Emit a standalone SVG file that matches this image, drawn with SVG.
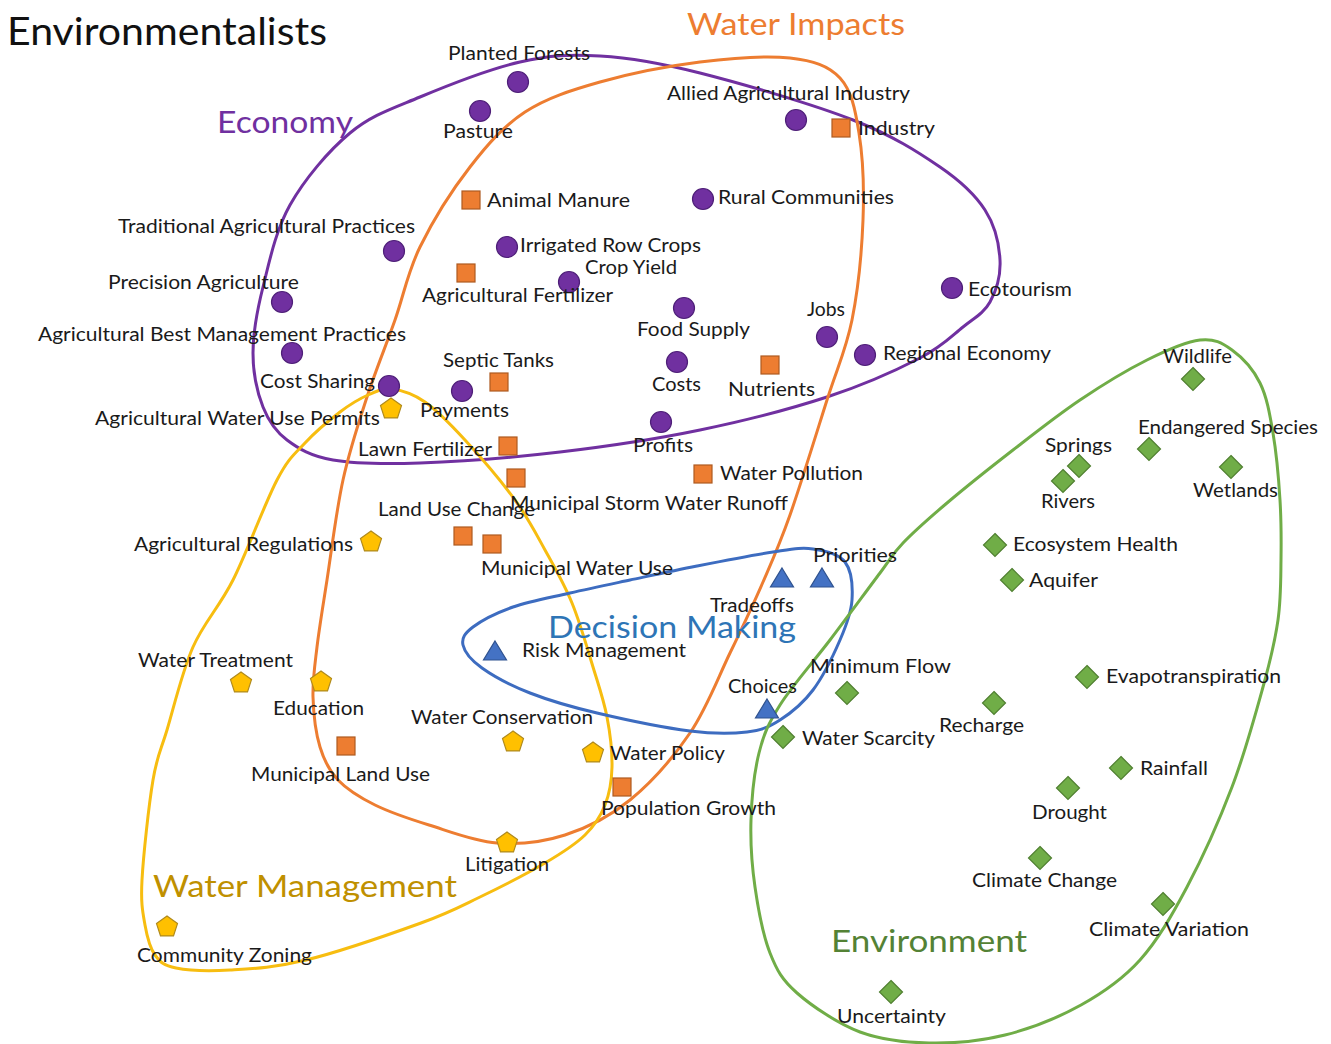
<svg xmlns="http://www.w3.org/2000/svg" width="1331" height="1044" viewBox="0 0 1331 1044">
<style>
  .lbl { font-family: Lato, "Open Sans", "Liberation Sans", sans-serif; font-size: 19.5px; fill: #1a1a1a; }
  .grp { font-family: Lato, "Open Sans", "Liberation Sans", sans-serif; font-size: 30.5px; }
  .title { font-family: Lato, "Open Sans", "Liberation Sans", sans-serif; font-size: 38.5px; fill: #111; }
  .ring { fill: none; stroke-width: 3; }
  .m-eco { fill: #7030a0; stroke: #4e1f78; stroke-width: 1.2; }
  .m-wi { fill: #ed7d31; stroke: #ae5a21; stroke-width: 1.2; }
  .m-wm { fill: #ffc000; stroke: #b08a1c; stroke-width: 1.2; }
  .m-dm { fill: #4472c4; stroke: #2f528f; stroke-width: 1.2; }
  .m-env { fill: #70ad47; stroke: #4f7f30; stroke-width: 1.2; }
</style>
<defs>
  <circle id="mk-circle" r="10.5" class="m-eco"/>
  <rect id="mk-square" x="-9" y="-9" width="18" height="18" class="m-wi"/>
  <polygon id="mk-pentagon" points="0,-11 10.5,-3.4 6.5,8.9 -6.5,8.9 -10.5,-3.4" class="m-wm"/>
  <polygon id="mk-triangle" points="0,-10 11.5,9 -11.5,9" class="m-dm"/>
  <polygon id="mk-diamond" points="0,-11.5 11.5,0 0,11.5 -11.5,0" class="m-env"/>
</defs>

<rect width="1331" height="1044" fill="#ffffff"/>

<text class="title" x="7" y="45" textLength="320" lengthAdjust="spacingAndGlyphs">Environmentalists</text>

<!-- cluster outlines -->
<g id="connectors">
  <path id="ring-economy" class="ring" stroke="#7030a0" d="M420,97 C448.3,85.2 490,68.8 520,62 S570,54.2 600,56 S657.8,62.3 700,73 S813,104.3 853,120 S918,152 940,167 S975,194.5 985,210 S999.2,244.7 1000,260 S996.2,290.8 990,302 S974.7,317.7 963,327 S942.7,346.3 920,358 S863.7,385 827,397 S744.5,420.8 700,430 S606.7,446.5 560,452 S457.8,461.7 420,463 S355.2,463.8 333,460 S298.7,448.8 287,440 S268.7,421.5 263,407 S253,373 253,353 S256.8,311.7 263,287 S275.5,230.7 290,205 S328.3,151 350,133 S391.7,108.8 420,97 Z"/>
  <path id="ring-water-impacts" class="ring" stroke="#ed7d31" d="M420,247 C432.5,221.5 452.5,189.5 470,167 S503.3,126.2 525,112 S570.8,90.3 600,82 S668.3,66 700,62 S766.7,55.3 790,58 S828.5,65.5 840,78 S855.2,109.3 859,133 S864.2,188.8 863,220 S858,290 852,320 S837.3,367.5 827,400 S800.7,484.7 790,515 S773,559 763,582 S742.2,627.8 730,653 S706.7,708.5 690,733 S650.8,783 630,800 S587.2,827.8 565,835 S519.7,844.7 497,843 S449.3,831.3 429,825 S390.2,812.5 375,805 S347.2,789.7 338,780 S324.2,760.8 320,747 S313.5,713.7 313,697 S314.7,666.5 317,647 S322.7,607.8 327,580 S336.3,510.5 343,480 S358.3,423.7 367,397 S386.2,345 395,320 S407.5,272.5 420,247 Z"/>
  <path id="ring-water-management" class="ring" stroke="#f7bd10" d="M392,389 C401.5,390.2 412.8,393.5 425,402 S450,423.7 465,440 S501.7,481.7 515,500 S535.5,532.8 545,550 S564,583.5 572,603 S587.2,648 593,667 S603.8,700.3 607,717 S612.3,752.3 612,767 S609.5,793.7 605,805 S595,825.3 585,835 S562.5,852.7 545,863 S500.7,887 480,897 S450,912.5 421,923 S337.8,952.2 306,960 S251.7,968.7 230,970 S188.5,970.5 176,968 S160.2,962.2 155,955 S147.2,937.5 145,925 S140.7,904.2 142,880 S148.8,805 153,780 S160.3,752.2 167,730 S182,672 193,647 S219,607.8 233,580 S265,502.8 277,480 S294.5,454.3 305,443 S329.5,420 340,412 S359.3,398.8 368,395 S382.5,387.8 392,389 Z"/>
  <path id="ring-decision-making" class="ring" stroke="#3d6cc0" d="M773,552 C792.3,549.2 801,547.3 813,549 S838.5,553.5 845,562 S852.8,587 852,600 S846.5,625 840,640 S823,676.7 813,690 S791,713 780,720 S762,730.2 747,732 S715,734.2 690,731 S623.7,719.3 597,713 S549.2,700.5 530,693 S493.2,676 482,668 S464.5,651.8 463,645 S464.7,633.3 473,627 S496.8,612.7 513,607 S550.5,597.5 570,593 S608.8,584.5 630,580 S673.2,570.7 697,566 S753.7,554.8 773,552 Z"/>
  <path id="ring-environment" class="ring" stroke="#70ad47" d="M903,543 C914.2,531.3 928.7,518.5 947,503 S990.8,467.2 1013,450 S1057.7,415 1080,400 S1127,370 1147,360 S1185.8,341.7 1200,340 S1222,342.8 1232,350 S1253.2,369.2 1260,383 S1269.7,413.5 1273,433 S1278.7,478.8 1280,500 S1281.3,540 1281,560 S1281,598.8 1278,620 S1270.7,659.2 1263,687 S1244.7,753.7 1232,787 S1202.3,858.2 1187,887 S1157.7,940.3 1140,960 S1103.5,992.5 1081,1005 S1030.3,1028.7 1005,1035 S953.2,1043.5 929,1043 S882,1040.3 860,1032 S812,1006.2 797,993 S777,970.7 770,953 S758.2,909.2 755,887 S750.3,842.3 751,820 S754.2,772.2 759,753 S768.2,723.8 780,705 S813.3,662 830,640 S867.8,589.2 880,573 S891.8,554.7 903,543 Z"/>
</g>

<!-- cluster titles -->
<g id="cluster-titles">
  <text id="title-water-impacts" class="grp" fill="#ed7d31" x="687" y="35" textLength="218" lengthAdjust="spacingAndGlyphs">Water Impacts</text>
  <text id="title-economy" class="grp" fill="#7030a0" x="217" y="133" textLength="136" lengthAdjust="spacingAndGlyphs">Economy</text>
  <text id="title-decision-making" class="grp" fill="#2e75b6" x="548" y="638" textLength="248" lengthAdjust="spacingAndGlyphs">Decision Making</text>
  <text id="title-water-management" class="grp" fill="#bf9000" x="153" y="897" textLength="304" lengthAdjust="spacingAndGlyphs">Water Management</text>
  <text id="title-environment" class="grp" fill="#548235" x="831" y="952" textLength="196" lengthAdjust="spacingAndGlyphs">Environment</text>
</g>

<!-- Economy -->
<g id="node-planted-forests"><use href="#mk-circle" x="518" y="82"/><text class="lbl" x="448" y="60" textLength="142" lengthAdjust="spacingAndGlyphs">Planted Forests</text></g>
<g id="node-pasture"><use href="#mk-circle" x="480" y="111"/><text class="lbl" x="443" y="138" textLength="70" lengthAdjust="spacingAndGlyphs">Pasture</text></g>
<g id="node-allied-agricultural-industry"><use href="#mk-circle" x="796" y="120"/><text class="lbl" x="667" y="100" textLength="243" lengthAdjust="spacingAndGlyphs">Allied Agricultural Industry</text></g>
<g id="node-rural-communities"><use href="#mk-circle" x="703" y="199"/><text class="lbl" x="718" y="204" textLength="176" lengthAdjust="spacingAndGlyphs">Rural Communities</text></g>
<g id="node-irrigated-row-crops"><use href="#mk-circle" x="507" y="247"/><text class="lbl" x="520" y="252" textLength="181" lengthAdjust="spacingAndGlyphs">Irrigated Row Crops</text></g>
<g id="node-crop-yield"><use href="#mk-circle" x="569" y="282"/><text class="lbl" x="585" y="274" textLength="92" lengthAdjust="spacingAndGlyphs">Crop Yield</text></g>
<g id="node-traditional-agricultural-practices"><use href="#mk-circle" x="394" y="251"/><text class="lbl" x="118" y="233" textLength="297" lengthAdjust="spacingAndGlyphs">Traditional Agricultural Practices</text></g>
<g id="node-precision-agriculture"><use href="#mk-circle" x="282" y="302"/><text class="lbl" x="108" y="289" textLength="191" lengthAdjust="spacingAndGlyphs">Precision Agriculture</text></g>
<g id="node-agricultural-best-management-practices"><use href="#mk-circle" x="292" y="353"/><text class="lbl" x="38" y="341" textLength="368" lengthAdjust="spacingAndGlyphs">Agricultural Best Management Practices</text></g>
<g id="node-cost-sharing"><use href="#mk-circle" x="389" y="386"/><text class="lbl" x="260" y="388" textLength="115" lengthAdjust="spacingAndGlyphs">Cost Sharing</text></g>
<g id="node-payments"><use href="#mk-circle" x="462" y="391"/><text class="lbl" x="420" y="417" textLength="89" lengthAdjust="spacingAndGlyphs">Payments</text></g>
<g id="node-food-supply"><use href="#mk-circle" x="684" y="308"/><text class="lbl" x="637" y="336" textLength="113" lengthAdjust="spacingAndGlyphs">Food Supply</text></g>
<g id="node-costs"><use href="#mk-circle" x="677" y="362"/><text class="lbl" x="652" y="391" textLength="49" lengthAdjust="spacingAndGlyphs">Costs</text></g>
<g id="node-profits"><use href="#mk-circle" x="661" y="422"/><text class="lbl" x="633" y="452" textLength="60" lengthAdjust="spacingAndGlyphs">Profits</text></g>
<g id="node-jobs"><use href="#mk-circle" x="827" y="337"/><text class="lbl" x="807" y="316" textLength="38" lengthAdjust="spacingAndGlyphs">Jobs</text></g>
<g id="node-regional-economy"><use href="#mk-circle" x="865" y="355"/><text class="lbl" x="883" y="360" textLength="168" lengthAdjust="spacingAndGlyphs">Regional Economy</text></g>
<g id="node-ecotourism"><use href="#mk-circle" x="952" y="288"/><text class="lbl" x="968" y="296" textLength="104" lengthAdjust="spacingAndGlyphs">Ecotourism</text></g>

<!-- Water Impacts -->
<g id="node-industry"><use href="#mk-square" x="841" y="128"/><text class="lbl" x="858" y="135" textLength="77" lengthAdjust="spacingAndGlyphs">Industry</text></g>
<g id="node-animal-manure"><use href="#mk-square" x="471" y="200"/><text class="lbl" x="487" y="207" textLength="143" lengthAdjust="spacingAndGlyphs">Animal Manure</text></g>
<g id="node-agricultural-fertilizer"><use href="#mk-square" x="466" y="273"/><text class="lbl" x="422" y="302" textLength="191" lengthAdjust="spacingAndGlyphs">Agricultural Fertilizer</text></g>
<g id="node-septic-tanks"><use href="#mk-square" x="499" y="382"/><text class="lbl" x="443" y="367" textLength="111" lengthAdjust="spacingAndGlyphs">Septic Tanks</text></g>
<g id="node-nutrients"><use href="#mk-square" x="770" y="365"/><text class="lbl" x="728" y="396" textLength="87" lengthAdjust="spacingAndGlyphs">Nutrients</text></g>
<g id="node-lawn-fertilizer"><use href="#mk-square" x="508" y="446"/><text class="lbl" x="358" y="456" textLength="134" lengthAdjust="spacingAndGlyphs">Lawn Fertilizer</text></g>
<g id="node-municipal-storm-water-runoff"><use href="#mk-square" x="516" y="478"/><text class="lbl" x="510" y="510" textLength="278" lengthAdjust="spacingAndGlyphs">Municipal Storm Water Runoff</text></g>
<g id="node-water-pollution"><use href="#mk-square" x="703" y="474"/><text class="lbl" x="720" y="480" textLength="143" lengthAdjust="spacingAndGlyphs">Water Pollution</text></g>
<g id="node-land-use-change"><use href="#mk-square" x="463" y="536"/><text class="lbl" x="378" y="516" textLength="157" lengthAdjust="spacingAndGlyphs">Land Use Change</text></g>
<g id="node-municipal-water-use"><use href="#mk-square" x="492" y="544"/><text class="lbl" x="481" y="575" textLength="192" lengthAdjust="spacingAndGlyphs">Municipal Water Use</text></g>
<g id="node-municipal-land-use"><use href="#mk-square" x="346" y="746"/><text class="lbl" x="251" y="781" textLength="179" lengthAdjust="spacingAndGlyphs">Municipal Land Use</text></g>
<g id="node-population-growth"><use href="#mk-square" x="622" y="787"/><text class="lbl" x="601" y="815" textLength="175" lengthAdjust="spacingAndGlyphs">Population Growth</text></g>

<!-- Water Management -->
<g id="node-agricultural-water-use-permits"><use href="#mk-pentagon" x="391" y="409"/><text class="lbl" x="95" y="425" textLength="285" lengthAdjust="spacingAndGlyphs">Agricultural Water Use Permits</text></g>
<g id="node-agricultural-regulations"><use href="#mk-pentagon" x="371" y="542"/><text class="lbl" x="134" y="551" textLength="219" lengthAdjust="spacingAndGlyphs">Agricultural Regulations</text></g>
<g id="node-water-treatment"><use href="#mk-pentagon" x="241" y="683"/><text class="lbl" x="138" y="667" textLength="155" lengthAdjust="spacingAndGlyphs">Water Treatment</text></g>
<g id="node-education"><use href="#mk-pentagon" x="321" y="682"/><text class="lbl" x="273" y="715" textLength="91" lengthAdjust="spacingAndGlyphs">Education</text></g>
<g id="node-water-conservation"><use href="#mk-pentagon" x="513" y="742"/><text class="lbl" x="411" y="724" textLength="182" lengthAdjust="spacingAndGlyphs">Water Conservation</text></g>
<g id="node-water-policy"><use href="#mk-pentagon" x="593" y="753"/><text class="lbl" x="610" y="760" textLength="115" lengthAdjust="spacingAndGlyphs">Water Policy</text></g>
<g id="node-litigation"><use href="#mk-pentagon" x="507" y="843"/><text class="lbl" x="465" y="871" textLength="84" lengthAdjust="spacingAndGlyphs">Litigation</text></g>
<g id="node-community-zoning"><use href="#mk-pentagon" x="167" y="927"/><text class="lbl" x="137" y="962" textLength="175" lengthAdjust="spacingAndGlyphs">Community Zoning</text></g>

<!-- Decision Making -->
<g id="node-priorities"><use href="#mk-triangle" x="822" y="578"/><text class="lbl" x="813" y="562" textLength="84" lengthAdjust="spacingAndGlyphs">Priorities</text></g>
<g id="node-tradeoffs"><use href="#mk-triangle" x="782" y="578"/><text class="lbl" x="710" y="612" textLength="84" lengthAdjust="spacingAndGlyphs">Tradeoffs</text></g>
<g id="node-risk-management"><use href="#mk-triangle" x="495" y="651"/><text class="lbl" x="522" y="657" textLength="164" lengthAdjust="spacingAndGlyphs">Risk Management</text></g>
<g id="node-choices"><use href="#mk-triangle" x="767" y="709"/><text class="lbl" x="728" y="693" textLength="69" lengthAdjust="spacingAndGlyphs">Choices</text></g>

<!-- Environment -->
<g id="node-wildlife"><use href="#mk-diamond" x="1193" y="379"/><text class="lbl" x="1163" y="363" textLength="69" lengthAdjust="spacingAndGlyphs">Wildlife</text></g>
<g id="node-endangered-species"><use href="#mk-diamond" x="1149" y="449"/><text class="lbl" x="1138" y="434" textLength="180" lengthAdjust="spacingAndGlyphs">Endangered Species</text></g>
<g id="node-springs"><use href="#mk-diamond" x="1079" y="466"/><text class="lbl" x="1045" y="452" textLength="67" lengthAdjust="spacingAndGlyphs">Springs</text></g>
<g id="node-rivers"><use href="#mk-diamond" x="1063" y="481"/><text class="lbl" x="1041" y="508" textLength="54" lengthAdjust="spacingAndGlyphs">Rivers</text></g>
<g id="node-wetlands"><use href="#mk-diamond" x="1231" y="467"/><text class="lbl" x="1193" y="497" textLength="85" lengthAdjust="spacingAndGlyphs">Wetlands</text></g>
<g id="node-ecosystem-health"><use href="#mk-diamond" x="995" y="545"/><text class="lbl" x="1013" y="551" textLength="165" lengthAdjust="spacingAndGlyphs">Ecosystem Health</text></g>
<g id="node-aquifer"><use href="#mk-diamond" x="1012" y="580"/><text class="lbl" x="1029" y="587" textLength="69" lengthAdjust="spacingAndGlyphs">Aquifer</text></g>
<g id="node-minimum-flow"><use href="#mk-diamond" x="847" y="693"/><text class="lbl" x="810" y="673" textLength="141" lengthAdjust="spacingAndGlyphs">Minimum Flow</text></g>
<g id="node-evapotranspiration"><use href="#mk-diamond" x="1087" y="677"/><text class="lbl" x="1106" y="683" textLength="175" lengthAdjust="spacingAndGlyphs">Evapotranspiration</text></g>
<g id="node-recharge"><use href="#mk-diamond" x="994" y="703"/><text class="lbl" x="939" y="732" textLength="85" lengthAdjust="spacingAndGlyphs">Recharge</text></g>
<g id="node-water-scarcity"><use href="#mk-diamond" x="783" y="737"/><text class="lbl" x="802" y="745" textLength="133" lengthAdjust="spacingAndGlyphs">Water Scarcity</text></g>
<g id="node-rainfall"><use href="#mk-diamond" x="1121" y="768"/><text class="lbl" x="1140" y="775" textLength="68" lengthAdjust="spacingAndGlyphs">Rainfall</text></g>
<g id="node-drought"><use href="#mk-diamond" x="1068" y="788"/><text class="lbl" x="1032" y="819" textLength="75" lengthAdjust="spacingAndGlyphs">Drought</text></g>
<g id="node-climate-change"><use href="#mk-diamond" x="1040" y="858"/><text class="lbl" x="972" y="887" textLength="145" lengthAdjust="spacingAndGlyphs">Climate Change</text></g>
<g id="node-climate-variation"><use href="#mk-diamond" x="1163" y="904"/><text class="lbl" x="1089" y="936" textLength="160" lengthAdjust="spacingAndGlyphs">Climate Variation</text></g>
<g id="node-uncertainty"><use href="#mk-diamond" x="891" y="992"/><text class="lbl" x="837" y="1023" textLength="109" lengthAdjust="spacingAndGlyphs">Uncertainty</text></g>
</svg>
